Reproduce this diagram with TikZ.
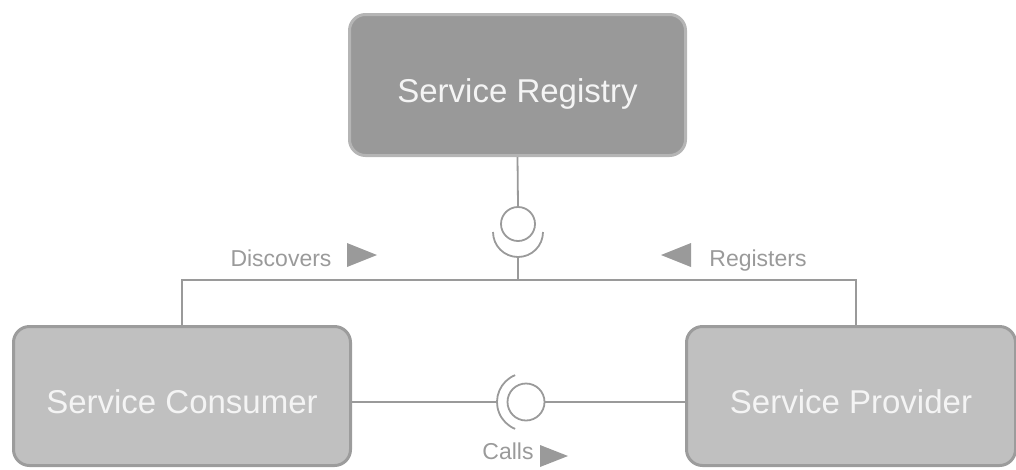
\documentclass[tikz,border=0pt]{standalone}
\usepackage{fontspec}
\setmainfont{Liberation Sans}
\definecolor{regfill}{HTML}{999999}
\definecolor{regedge}{HTML}{B5B5B5}
\definecolor{partfill}{HTML}{C0C0C0}
\definecolor{partedge}{HTML}{9C9C9C}
\definecolor{wire}{HTML}{9A9A9A}
\definecolor{boxtext}{HTML}{F4F4F4}
\begin{document}
\begin{tikzpicture}[x=1pt,y=-1pt,
  box/.style={rectangle, rounded corners=16pt, line width=3pt, text=boxtext,
    font=\fontsize{33}{36}\selectfont, text height=35pt, text depth=0pt, inner sep=0pt},
  regbox/.style={box, fill=regfill, draw=regedge},
  partbox/.style={box, fill=partfill, draw=partedge},
  conn/.style={draw=wire, line width=1.8pt},
  ball/.style={circle, draw=wire, line width=1.8pt, inner sep=0pt},
  lbl/.style={text=wire, font=\fontsize{23}{26}\selectfont, text height=17pt, text depth=0pt, inner sep=0pt},
  tri/.style={fill=wire}
]
\useasboundingbox (0,0) rectangle (1016,469);

% components
\node[regbox, minimum width=336, minimum height=141] (reg) at (517.5,85) {Service Registry};
\node[partbox, minimum width=337, minimum height=139] (cons) at (182,396) {Service Consumer};
\node[partbox, minimum width=329, minimum height=139] (prov) at (851,396) {Service Provider};

% registry interface: provided ball and required socket
\node[ball, minimum size=34] (rball) at (518,224) {};
\draw[conn] (reg.south) -- (rball.north);
\draw[conn] ([shift={(-25,8)}]rball.center) arc[start angle=180, end angle=0, radius=25];
\coordinate (cup) at (518,257);
\coordinate (hub) at (518,280);
\draw[conn] (cup) -- (hub);
\draw[conn] (cons.north) |- (hub) -| ([xshift=5pt]prov.north);

% call interface between consumer and provider
\node[ball, minimum size=37] (cball) at (526,402) {};
\draw[conn] ([shift={(248:29)}]cball.center) arc[start angle=248, end angle=112, radius=29];
\coordinate (csock) at (497,402);
\draw[conn] (cons.east |- csock) -- (csock);
\draw[conn] (cball.east) -- (prov.west |- cball.east);

% relation labels with direction marks
\node[lbl] (disc) at (281,258) {Discovers};
\fill[tri] (347,243) -- (347,267) -- (377,255) -- cycle;
\node[lbl] (regs) at (758,258) {Registers};
\fill[tri] (691,243) -- (691,267) -- (661,255) -- cycle;
\node[lbl] (calls) at (508,451) {Calls};
\fill[tri] (540,445) -- (540,467) -- (568,456) -- cycle;
\end{tikzpicture}
\end{document}
